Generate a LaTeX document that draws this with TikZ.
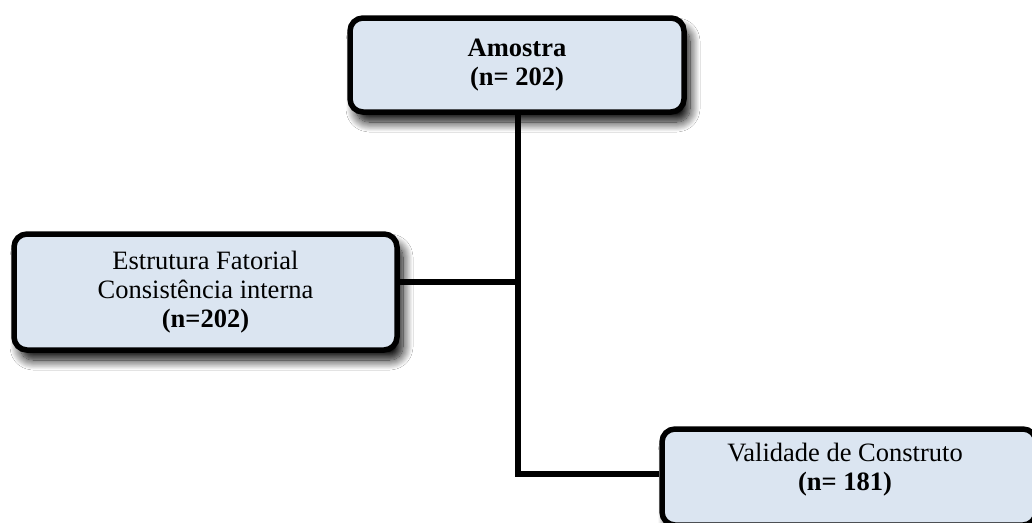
\documentclass[tikz,border=0pt]{standalone}
\usepackage{fontspec}
\setmainfont{Liberation Serif}
\usetikzlibrary{shadows.blur}
\definecolor{boxfill}{HTML}{DBE5F1}
\tikzset{
  box/.style={draw=black, line width=5.5pt, fill=boxfill, rounded corners=13pt,
    align=center, inner sep=0pt,
    blur shadow={shadow xshift=6pt, shadow yshift=-10pt, shadow blur radius=10pt,
      shadow blur steps=12, shadow opacity=100},
    font=\fontsize{26.5}{29}\selectfont},
  txt/.style={align=center, inner sep=0pt, font=\fontsize{26.5}{29}\selectfont},
  link/.style={draw=black, line width=5.5pt, line join=miter},
}
\begin{document}
\begin{tikzpicture}[x=1pt,y=-1pt]
\clip (0,0) rectangle (1032,522);
\fill[white] (0,0) rectangle (1032,522);
\node[box, minimum width=334pt, minimum height=94pt] (a) at (517,65)
  {\textbf{Amostra}\\\textbf{(n= 202)}};
\node[box, minimum width=383pt, minimum height=116pt] (b) at (205.5,292)
  {Estrutura Fatorial\\Consistência interna\\\textbf{(n=202)}};
\node[box, minimum width=374pt, minimum height=96pt] (c) at (849,477) {};
\node[txt] (ct) at (845,470) {Validade de Construto\\\textbf{(n= 181)}};
\coordinate (jb) at (518,282);
\coordinate (jc) at (518,474);
\draw[link] (a.south -| jb) -- (jc) -- (c.west |- jc);
\draw[link] (b.east |- jb) -- (jb);
\end{tikzpicture}
\end{document}
